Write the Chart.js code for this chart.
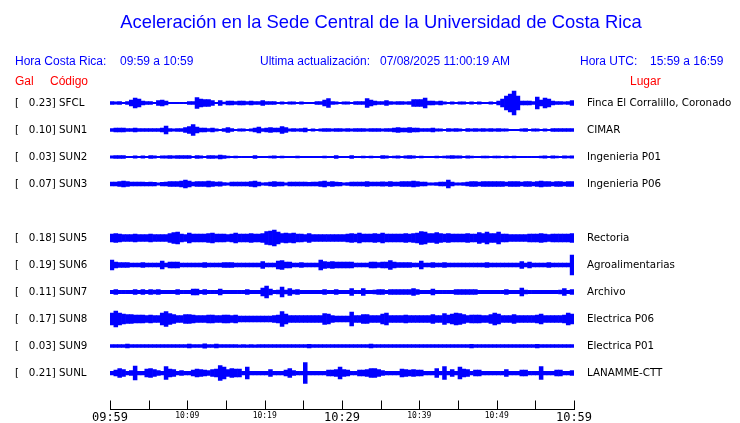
<!DOCTYPE html>
<html>
<head>
<meta charset="utf-8">
<script src="https://cdn.jsdelivr.net/npm/chart.js@4/dist/chart.umd.min.js"></script>
<style>
body { margin: 0; background: #fff; }
#wrap { position: relative; width: 740px; height: 423px; font-family: "Liberation Sans", Arial, sans-serif; }
#wrap canvas { position: absolute; left: 0; top: 0; }
#wrap .t { position: absolute; white-space: pre; font-size: 12px; line-height: 14px; }
.b { color: #0000ff; }
.r { color: #ff0000; }
</style>
</head>
<body>
<div id="wrap">
<canvas id="c" width="740" height="423"></canvas>
<div class="t b" style="left:0;width:762px;text-align:center;top:12px;font-size:18.4px;line-height:20px">Aceleración en la Sede Central de la Universidad de Costa Rica</div>
<div class="t b" style="left:15px;top:54px">Hora Costa Rica:</div>
<div class="t b" style="left:120px;top:54px">09:59 a 10:59</div>
<div class="t b" style="left:260px;top:54px">Ultima actualización:</div>
<div class="t b" style="left:380px;top:54px">07/08/2025 11:00:19 AM</div>
<div class="t b" style="left:580px;top:54px">Hora UTC:</div>
<div class="t b" style="left:650px;top:54px">15:59 a 16:59</div>
<div class="t r" style="left:15px;top:74px">Gal</div>
<div class="t r" style="left:50px;top:74px">Código</div>
<div class="t r" style="left:630px;top:74px">Lugar</div>
</div>
<script>
// 09:59 -> 10:59, una muestra de envolvente cada 30 s
const sampleMin = 0.5;

const codes = ['SFCL', 'SUN1', 'SUN2', 'SUN3', 'SUN5', 'SUN6', 'SUN7', 'SUN8', 'SUN9', 'SUNL'];
const peaks = ['0.23', '0.10', '0.03', '0.07', '0.18', '0.19', '0.11', '0.17', '0.03', '0.21'];
const places = ['Finca El Corralillo, Coronado', 'CIMAR', 'Ingenieria P01', 'Ingenieria P06', 'Rectoria',
  'Agroalimentarias', 'Archivo', 'Electrica P06', 'Electrica P01', 'LANAMME-CTT'];

const tickMinutes = [0, 5, 10, 15, 20, 25, 30, 35, 40, 45, 50, 55, 60];
const tickLabels = ['09:59', '', '10:09', '', '10:19', '', '10:29', '', '10:39', '', '10:49', '', '10:59'];
const bigTicks = ['09:59', '10:29', '10:59'];

const sfcl = [1.5,1.2,1.5,0.7,1.5, 3,5,4,2, 1.5,1.5,0.7, 2.5,3,2, 0.7,0.7,0.7,0.7,0.7, 1.5,1.5, 5.5,4,
  3.5,3.5,2.5, 0.7,2.5,1, 1.8,1.8,1.5,1.8,1.8,1.5,1.8,1.5,1.5,2.5,1.5,1.5,1.5,0.7,
  1.2,0.7,1.2,1.2,0.7,1.2, 0.7,0.7,0.7, 1.5,1.5,3,4.5,1.5, 1.2,0.7,1.2,1.2,0.7, 1.5,1.5,1.5,4.5,
  3,2,1.5,1.5,2.5, 1.5,1.2,1.5,1.5,1.2,1.5, 3.5,3.5,3.5,5, 1.8,1.8,1.5,1.8,1.2,0.7,
  1.2,0.7,1.2,1.2,0.7,1.2,0.7,1.2,0.7, 0.7,1.2,0.7, 2,4,7,9,12,7,2, 2,2,1.5, 6,3, 5,4,2,
  1.5,1.5,1.2, 1.5,2.5];
const sun1 = [1.5,2,2,2,1.5,1.5,1.8,1.5,1.5,1.5,1.5,1.5,1.5,1.8, 4, 1.5,1.2,1.5,1.5, 2.5,3.5,5.5,3,
  1.8,1.8,1.5,1.8,1.2,0.7, 1.5,2.5,1.5, 0.7,1.2,1.2,0.7,1.2, 2,3,1.5, 2,2.5,2,1.8, 3.5,2.5,
  1.2,1.5,1.2,1.5,2, 0.7,1.2,0.7,1.2, 1.5,1.5,1.2,1.5,1.5,1.2,1.5,1.2,
  1.5,1.5,1.5,1.2,1.5,1.5,1.5,1.2,1.5,1.5,1.8, 2.5,1.8,1.8,2.5,1.8,1.8,1.5,1.5,1.5,1.8,1.2,
  1.2,0.7,1.5,1.2,1.5,1.2,0.7,1.5,1.2,1.5,1.2,1.5,1.2,1.5,1.2,1.5,1.2,1.2, 0.7,0.7,0.7,
  1.2,1.5,0.7,1.2,1.2,0.7,1.2, 0.7, 1.5,1.5,1.5,1.5,1.5,1.5];
const sun2 = [1.2,1.5,1.5,1.5,0.6, 0.6,1.2,0.6, 1.2,0.6,1.5,1.2, 0.6, 1.2,1.2,1.5,1.2,1.5,1.5,1.5,1.5,
  0.6,1.5,1.2,0.6, 1.5,1.5,1.2,1.8,1.5, 1,0.6,1, 0.6,0.6,0.6,0.6, 1.5, 0.6,0.6,0.6, 1,1.2,0.6,1,0.6,
  0.6,0.6, 1, 0.6,0.6,0.6,0.6,0.6,0.6, 1,0.6,0.6,1.5, 0.6,0.6,0.6, 1.5, 0.6,0.6,1,0.6,1,0.6,0.6,
  1.5,1.2, 0.6,1,1.2,0.6,1.2,1.5,1.2,0.6,1,0.6, 0.6,0.6,1,0.6,1, 1.2,1.5,1.2,1.2,0.6,1.2,1,
  0.6,0.6, 1,1,0.6,1,1,0.6,1,0.6,1,0.6, 0.6,0.6,0.6,0.6,0.6, 1,1.2,0.6,1.2,1,0.6,1.2,1,1.2];
const sun3 = [2,2,2.5,3,2.5,2,2,2,2,1.8, 2,1.8,1.2,1.8,2, 2.5,2.5,2.5,3,4, 3,2,2.5,2.5,2.5,
  3,2.5,2,2.2,1.5, 1.2,2,2,2,2, 2,2.5,3,2,1.2, 1.5,2,2.5,2,2, 1.2,2,2,2,2, 2,1.8,2,2,2.5,
  3,2,2.5,2,1.8, 1.2,1.5,2,2,2, 2,2.5,2,2,2, 2.2,2,2.5,2,2, 2.5,2.5,2.5,3,2.5, 2,2,1.2,1.2,1.5,
  2,2,4,2,1.2, 1.2,1.5,2,2.5,2.5, 2,2.5,2.5,2.5,2.5, 2.5,2.5,2,2.5,2.5, 2.5,2,2.5,2.5,2,
  2.5,3,2.5,2.5,2, 2.5,2.5,2,2.5,2.5];
const sun5 = [4,4.5,4,3.5,3.5, 3.5,4,3.5,3.5,3.5, 4,3.5,3.5,3.5,3.5, 4.5,5.5,6,4,3.5, 5,4,4,4,4,
  4.5,5,4,4,4, 3.5,4,5,4,4, 4,4.5,4,4,4.5, 6.5,7,8,6,4.5, 5,4.5,5,4,4, 3.5,4.5,3.5,3.5,3.5,
  3.5,3.5,3.5,3.5,3.5, 3.5,4,4.5,4,5, 4,4,4,4.5,4, 5,4,4,4,4, 4,4.5,4,4.5,5, 6.5,6,4.5,4.5,5.5,
  4.5,4,4.5,4,4, 4,4,4.5,4,4, 5.5,4.5,6,4.5,4.5, 6,4,4,3.5,3.5, 3.5,3.5,3.5,4,4,
  4,4.5,4,3.5,4, 4,4,4,4,4.5];
const sun6 = [5,3,2.5,2.5,2.5, 2,2,2,2.5,2, 2,2,2,4,2, 3,3,3,2,2, 2,2,2,2,2.5, 2,2,2,2,2.5,
  2.5,2.5,2,2,2, 2,2,2,2,3.5, 2,2,2,4,4.5, 3,3,2,2,2.5, 2,2,2,2,5, 3.5,3,3.5,3,3, 3,3,3,2,2,
  2,2,3,3,2.5, 3,3,4.5,3,2.5, 2.5,2.5,2.5,2,2, 4,2,2,2.5,2, 2,2.5,2,2,2, 2,2,2,2,2,
  2,2,2.5,2,2, 2,2,2,2,2, 2,3.5,2,3,2, 2,2,2,2.5,2, 2,2,2,2,10];
const sun7 = [1.7,2.5,1.7,1.7,1.7, 1.7,2.5,1.7,2.5,1.7, 2.5,2,2.5,1.7,1.7, 1.7,1.7,2.5,1.7,1.7,
  1.7,3,3,1.7,2.5, 1.7,1.7,1.7,3,1.7, 1.7,1.7,1.7,1.7,1.7, 2.5,1.7,1.7,1.7,4, 6,3,1.7,2,5,
  2,3.5,2,2.5,1.7, 1.7,1.7,1.7,1.7,1.7, 2.5,1.7,1.7,2.5,1.7, 1.7,1.7,3.5,1.7,1.7, 3.5,1.7,1.7,2,2.5,
  2.5,1.7,2.5,2.5,2.5, 2.5,2.5,2.5,3.5,2.5, 1.7,1.7,1.7,3,1.7, 1.7,1.7,1.7,1.7,2.5,
  2.5,2.5,2.5,2.5,2.5, 1.7,1.7,1.7,1.7,1.7, 1.7,1.7,2.5,1.7,1.7, 1.7,4,2,1.7,1.7,
  1.7,1.7,1.7,1.7,1.7, 1.7,2,3.5,1.7,2.5];
const sun8 = [6,8,6,5,4.5, 4.5,4,4,4,3.5, 4,3.5,3.5,6,7.5, 5.5,4.5,3.5,3.5,4.5, 4.5,4,3.5,3.5,3.5,
  4,4,3.5,3.5,4, 4,3.5,4,3,3, 3,3,3,3,3, 3,3,3.5,4,7.5, 5,3.5,3.5,3.5,3.5, 3.5,3.5,3.5,3.5,3.5,
  5.5,5,3.5,3,3, 3,3,7,3.5,3.5, 4.5,4.5,3.5,3.5,3.5, 5,6,3.5,3.5,3.5, 3.5,4,3.5,3.5,3.5,
  3.5,3.5,3.5,4.5,3.5, 3.5,5.5,4,5,6, 5.5,4.5,3.5,4,4, 4,3.5,3.5,4.5,6, 5,3.5,3.5,3.5,4.5,
  3.5,3.5,3.5,3.5,3.5, 4,5,3.5,3.5,3.5, 3.5,3.5,4,6,5];
const sun9 = [1.5,1.5,1.5,1.5,2, 1.5,1.5,1.5,1.5,1.5, 1.5,1.5,1.5,1.5,1.5, 1.5,1.5,1.5,1.5,1.5,
  2,1.5,1.5,1.5,2.2, 1.5,1.5,2,1.5,1.5, 1.5,1.5,1.5,1.3,1.5, 1.3,1.5,1.3,1.5,1.5,
  1.5,1.5,1.5,1.5,1.5, 1.5,1.5,1.5,1.5,1.5, 1.5,1.8,1.5,1.5,1.5, 1.5,1.5,1.5,1.5,1.5,
  1.5,1.5,1.5,1.5,1.5, 1.5,1.5,2,1.5,1.5, 1.5,1.5,1.5,1.5,1.5, 1.5,1.5,1.5,1.5,1.5,
  1.5,1.5,1.5,1.5,1.5, 1.5,1.5,1.5,1.5,1.5, 1.5,1.5,1.5,1.8,1.5, 1.5,1.5,1.5,1.5,1.5,
  1.5,1.5,1.5,1.5,1.5, 1.5,1.5,1.5,1.5,1.5, 1.8,1.5,1.5,1.5,1.5, 1.5,1.5,1.5,1.5,1.5];
const sunl = [1.8,3,4.5,3.5,1.8, 2.5,7,1.8,1.8,4, 4.5,3.5,2.5,1.8,6.5, 4,3.5,1.8,2.5,1.8, 1.8,3,4,3.5,3,
  2.5,3.5,4,7.5,6, 3.5,4.5,4,4,1.8, 6,1.8,1.8,1.8,1.8, 1.8,3.5,1.8,1.8,1.8, 3,4.5,2.5,1.8,1.8,
  10.5,1.8,1.8,1.8,1.8, 1.8,3,3,3.5,6, 3.5,3,1.8,1.8,3, 3,3.5,4.5,4.5,3.5, 2.5,1.8,1.8,1.8,1.8,
  4,3.5,3,3.5,3, 3,1.8,1.8,1.8,4.5, 1.8,6.5,1.8,3.5,1.8, 6,4,3.5,1.8,3, 3,1.8,1.8,1.8,1.8,
  1.8,1.8,3.5,1.8,1.8, 1.8,3,3,1.8,1.8, 1.8,6.5,1.8,1.8,1.8, 3,3,1.8,1.8,2.5];

const traces = [sfcl, sun1, sun2, sun3, sun5, sun6, sun7, sun8, sun9, sunl];

// posicion vertical de cada traza y del eje de tiempo (px desde el borde superior del area)
const rowY = [15, 42, 69, 96, 150, 177, 204, 231, 258, 285];
const axisY = 321;
const yMax = 315.8;

const leftLabels = codes.map((c, i) => '[   ' + peaks[i] + '] ' + c);

const axisTicks = {
  id: 'axisTicks',
  afterDraw(chart) {
    const { ctx, scales: { x, y } } = chart;
    const yb = Math.round(y.getPixelForValue(axisY)) + 0.5;
    ctx.save();
    ctx.strokeStyle = '#000';
    ctx.lineWidth = 1;
    ctx.beginPath();
    ctx.moveTo(x.getPixelForValue(tickMinutes[0]), yb);
    ctx.lineTo(x.getPixelForValue(tickMinutes[tickMinutes.length - 1]) + 1, yb);
    tickMinutes.forEach(m => {
      const px = Math.round(x.getPixelForValue(m)) + 0.5;
      ctx.moveTo(px, yb);
      ctx.lineTo(px, yb - 9);
    });
    ctx.stroke();
    ctx.restore();
  }
};

const rowScale = (position, labels, opts) => Object.assign({
  type: 'linear',
  position: position,
  reverse: true,
  min: 0,
  max: yMax,
  grid: { display: false, drawTicks: false },
  border: { display: false },
  afterBuildTicks: s => { s.ticks = rowY.map(v => ({ value: v })); },
  ticks: {
    autoSkip: false,
    color: '#000',
    font: { family: 'DejaVu Sans', size: 10.3 },
    callback: (v, i) => labels[i]
  }
}, opts);

new Chart(document.getElementById('c'), {
  type: 'bar',
  data: {
    datasets: traces.map((amps, r) => ({
      label: codes[r],
      yAxisID: 'y',
      data: amps.map((a, i) => ({ x: (i + 0.5) * sampleMin, y: [rowY[r] - a, rowY[r] + a] })),
      backgroundColor: '#0000ff',
      borderWidth: 0,
      barPercentage: 1,
      categoryPercentage: 1,
      grouped: false
    }))
  },
  options: {
    responsive: false,
    animation: false,
    devicePixelRatio: 1,
    layout: { padding: { top: 88, left: 15, right: 0, bottom: 0 } },
    plugins: { legend: { display: false }, tooltip: { enabled: false }, title: { display: false } },
    scales: {
      x: {
        type: 'linear',
        min: 0,
        max: 60,
        offset: false,
        grid: { display: false, drawTicks: false, offset: false },
        border: { display: false },
        afterBuildTicks: s => { s.ticks = tickMinutes.map(v => ({ value: v })); },
        afterFit: s => { s.height = 19; },
        ticks: {
          autoSkip: false,
          maxRotation: 0,
          padding: 8,
          color: '#000',
          font: c => ({ family: 'DejaVu Sans Mono', size: bigTicks.includes(tickLabels[c.index]) ? 12 : 8, lineHeight: 1 }),
          callback: (v, i) => tickLabels[i]
        }
      },
      y: rowScale('left', leftLabels, { afterFit: s => { s.width = 95; }, ticks: Object.assign(rowScale('left', leftLabels).ticks, { crossAlign: 'far', padding: 0 }) }),
      y2: rowScale('right', places, { afterFit: s => { s.width = 166; }, ticks: Object.assign(rowScale('right', places).ticks, { padding: 13 }) })
    }
  },
  plugins: [axisTicks]
});
</script>
</body>
</html>
